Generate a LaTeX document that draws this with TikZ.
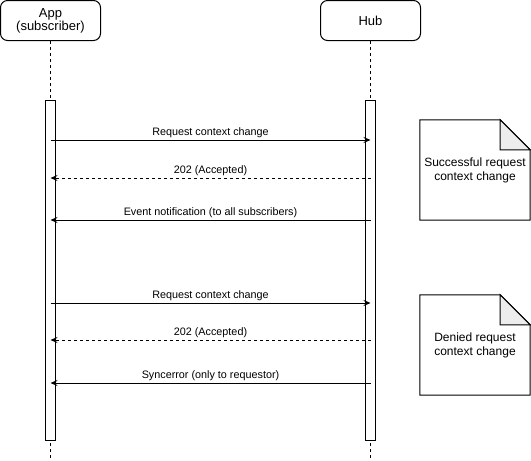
\documentclass[tikz,border=0pt]{standalone}
\usepackage{fontspec}
\setmainfont{Liberation Sans}
\usetikzlibrary{arrows.meta}

\tikzset{
    actor/.style={draw, rounded corners=7pt, line width=1pt, minimum width=100pt, minimum height=40pt,
        align=center, font=\fontsize{13}{13}\selectfont},
    actbar/.style={draw, fill=white, line width=1pt, minimum width=10pt, minimum height=340pt, inner sep=0pt},
    lifeline/.style={line width=1pt, dash pattern=on 3pt off 3pt},
    call/.style={line width=1pt, -{Stealth[length=7pt, width=6pt, inset=2.5pt]}},
    reply/.style={call, dash pattern=on 3pt off 3pt},
    msglabel/.style={font=\fontsize{10.8}{12}\selectfont, anchor=base, inner sep=0pt, yshift=5pt},
    notetext/.style={align=center, font=\fontsize{12}{14}\selectfont, minimum width=110pt, minimum height=100pt, inner sep=0pt}
}

\begin{document}
\begin{tikzpicture}[x=1pt, y=-1pt]
    \useasboundingbox (0,0) rectangle (531,461);

    % Draw the two participants at the top
    \node[actor] (app) at (50.5,20.5) {App\\(subscriber)};
    \node[actor] (hub) at (370.5,20.5) {Hub};

    % Draw the dashed lifelines down to the bottom
    \coordinate (appEnd) at (50.5,461);
    \coordinate (hubEnd) at (370.5,461);
    \draw[lifeline] (app.south) -- (appEnd);
    \draw[lifeline] (hub.south) -- (hubEnd);

    % Draw the activation bars on top of the lifelines
    \node[actbar, anchor=north] (appBar) at (50.5,100) {};
    \node[actbar, anchor=north] (hubBar) at (370.5,100) {};

    % Points on the lifelines where the messages start and end
    \coordinate (appA) at (app.south |- 0,140);
    \coordinate (hubA) at (hub.south |- 0,140);
    \coordinate (appB) at (app.south |- 0,178);
    \coordinate (hubB) at (hub.south |- 0,178);
    \coordinate (appC) at (app.south |- 0,220);
    \coordinate (hubC) at (hub.south |- 0,220);
    \coordinate (appD) at (app.south |- 0,303);
    \coordinate (hubD) at (hub.south |- 0,303);
    \coordinate (appE) at (app.south |- 0,340);
    \coordinate (hubE) at (hub.south |- 0,340);
    \coordinate (appF) at (app.south |- 0,383);
    \coordinate (hubF) at (hub.south |- 0,383);

    % Draw the messages of the successful change
    \draw[call] (appA) -- (hubA) node[midway, msglabel] {Request context change};
    \draw[reply] (hubB) -- (appB) node[midway, msglabel] {202 (Accepted)};
    \draw[call] (hubC) -- (appC) node[midway, msglabel] {Event notification (to all subscribers)};

    % Draw the messages of the denied change
    \draw[call] (appD) -- (hubD) node[midway, msglabel] {Request context change};
    \draw[reply] (hubE) -- (appE) node[midway, msglabel] {202 (Accepted)};
    \draw[call] (hubF) -- (appF) node[midway, msglabel] {Syncerror (only to requestor)};

    % Draw the notes with a folded corner on the right
    \node[notetext] (okNote) at (475,170) {Successful request\\context change};
    \draw[line width=1pt] (okNote.north west) -- ([xshift=-30pt]okNote.north east)
        -- ([yshift=-30pt]okNote.north east) -- (okNote.south east) -- (okNote.south west) -- cycle;
    \draw[line width=1pt, fill=black!7] ([xshift=-30pt]okNote.north east) -- ([xshift=-30pt, yshift=-30pt]okNote.north east)
        -- ([yshift=-30pt]okNote.north east) -- cycle;

    \node[notetext] (deniedNote) at (475,345) {Denied request\\context change};
    \draw[line width=1pt] (deniedNote.north west) -- ([xshift=-30pt]deniedNote.north east)
        -- ([yshift=-30pt]deniedNote.north east) -- (deniedNote.south east) -- (deniedNote.south west) -- cycle;
    \draw[line width=1pt, fill=black!7] ([xshift=-30pt]deniedNote.north east) -- ([xshift=-30pt, yshift=-30pt]deniedNote.north east)
        -- ([yshift=-30pt]deniedNote.north east) -- cycle;
\end{tikzpicture}
\end{document}
